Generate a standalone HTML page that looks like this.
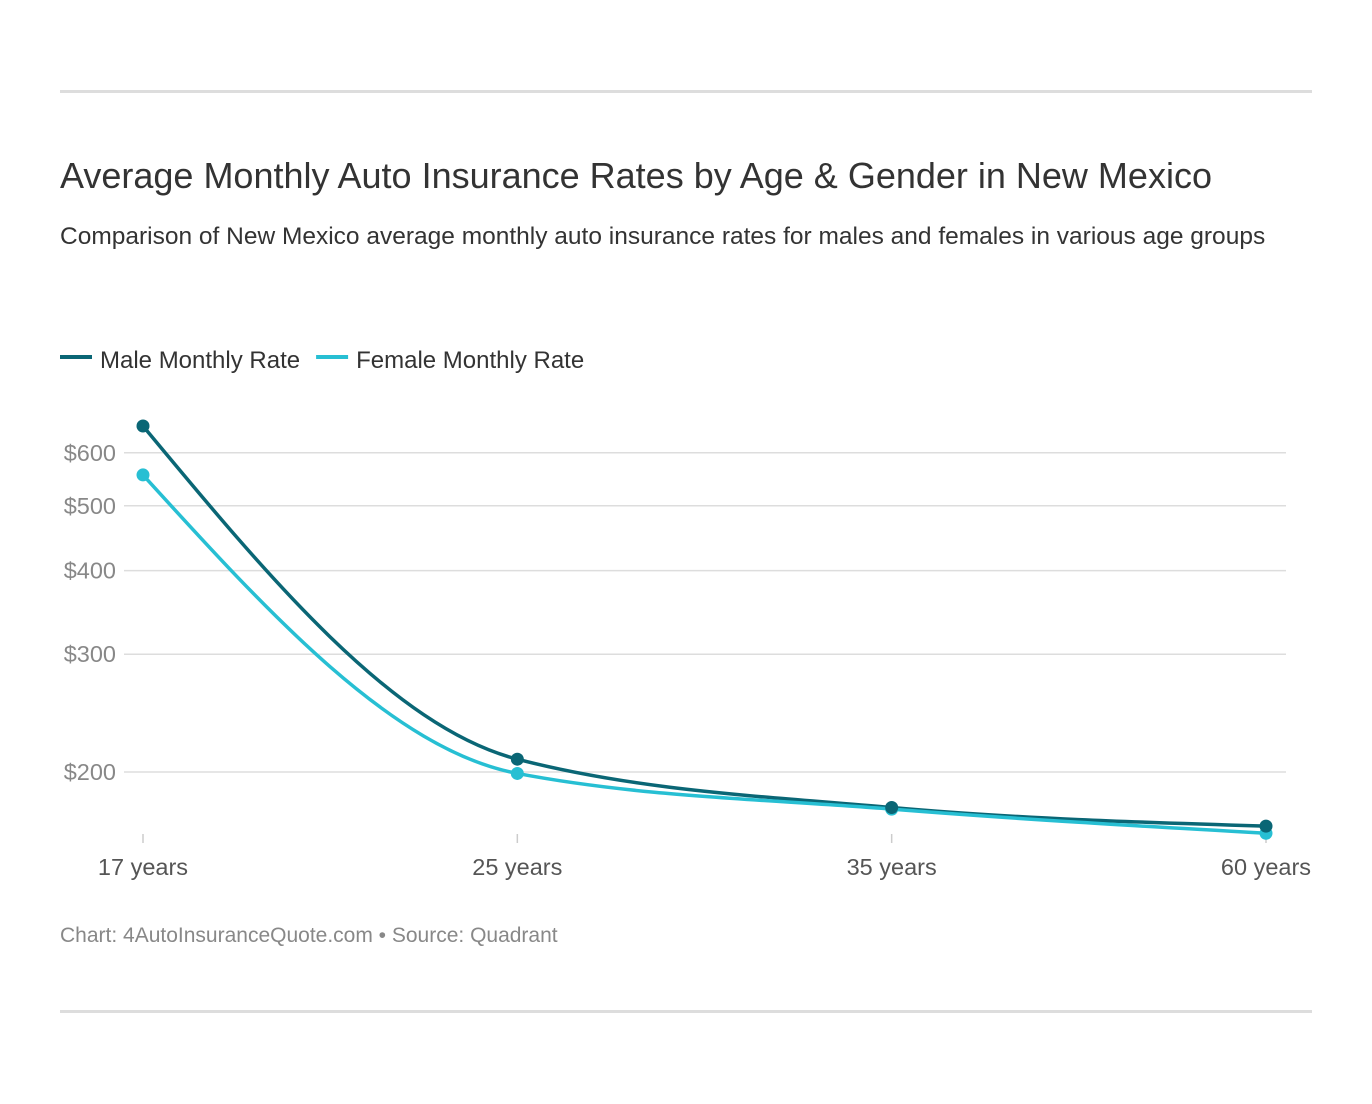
<!DOCTYPE html>
<html><head><meta charset="utf-8">
<style>
body{margin:0;background:#fff;font-family:"Liberation Sans",Arial,sans-serif;}
#wrap{position:relative;width:1372px;height:1104px;}
.rule{position:absolute;left:60px;width:1252px;height:3px;background:#ddd;}
h1{position:absolute;left:60px;top:155px;margin:0;font-size:36px;font-weight:normal;color:#333;white-space:nowrap;}
.sub{position:absolute;left:60px;top:220px;width:1210px;font-size:24.5px;line-height:34px;color:#333;}
.foot{position:absolute;left:60px;top:924px;font-size:21px;color:#888;}
</style></head><body>
<div id="wrap">
<div class="rule" style="top:90px"></div>
<h1>Average Monthly Auto Insurance Rates by Age &amp; Gender in New Mexico</h1>
<div class="sub">Comparison of New Mexico average monthly auto insurance rates for males and females in various age groups</div>
<svg id="chart" width="1372" height="1104" style="position:absolute;left:0;top:0"></svg>
<div class="foot">Chart: 4AutoInsuranceQuote.com • Source: Quadrant</div>
<div class="rule" style="top:1010px"></div>
</div>
<script>
const categories=["17 years","25 years","35 years","60 years"];
const maleValues=[658,209,177,166];
const femaleValues=[556,199,176,162];
const yTicks=[200,300,400,500,600];
const yTickLabels=["$200","$300","$400","$500","$600"];
const seriesNames=["Male Monthly Rate","Female Monthly Rate"];
const colors=["#0a6675","#27bfd3"];
const NS="http://www.w3.org/2000/svg";
const svg=document.getElementById('chart');
function x(i){return 143+i*(1266-143)/(categories.length-1);}
function y(v){return 772-669*Math.log10(v/200);}
function mk(t,a,p){const e=document.createElementNS(NS,t);for(const k in a)e.setAttribute(k,a[k]);(p||svg).appendChild(e);return e;}
yTicks.forEach((t,i)=>{
 const l=mk('line',{x1:124,x2:1286,y1:y(t),y2:y(t),stroke:'#ddd','stroke-width':1.5});
 
 
 const tx=mk('text',{x:116,y:y(t)+8,'text-anchor':'end','font-size':23.5,fill:'#888','font-family':'Liberation Sans'});
 tx.textContent=yTickLabels[i];
 
 
});
categories.forEach((c,i)=>{
 const l=mk('line',{x1:x(i),x2:x(i),y1:834,y2:843,stroke:'#ccc','stroke-width':1.5});
 
 
 const tx=mk('text',{x:x(i),y:875,'text-anchor':'middle','font-size':23.5,fill:'#555','font-family':'Liberation Sans'});
 tx.textContent=c;
 
 
});
function monotonePath(px,py){
 const n=px.length,d=[],m=[];
 for(let i=0;i<n-1;i++)d.push((py[i+1]-py[i])/(px[i+1]-px[i]));
 for(let i=0;i<n;i++){
  if(i===0||i===n-1)continue;
  const h0=px[i]-px[i-1],h1=px[i+1]-px[i];
  const p=(d[i-1]*h1+d[i]*h0)/(h0+h1);
  m[i]=(Math.sign(d[i-1])+Math.sign(d[i]))*Math.min(Math.abs(d[i-1]),Math.abs(d[i]),0.5*Math.abs(p))||0;
 }
 m[0]=(3*d[0]-m[1])/2; m[n-1]=(3*d[n-2]-m[n-2])/2;
 let s='M'+px[0]+','+py[0];
 for(let i=0;i<n-1;i++){const h=(px[i+1]-px[i])/3;
  s+=' C'+(px[i]+h)+','+(py[i]+m[i]*h)+' '+(px[i+1]-h)+','+(py[i+1]-m[i+1]*h)+' '+px[i+1]+','+py[i+1];}
 return s;
}
[maleValues,femaleValues].forEach((vals,si)=>{
 const px=vals.map((v,i)=>x(i)),py=vals.map(y);
 const p=mk('path',{d:monotonePath(px,py),fill:'none',stroke:colors[si],'stroke-width':3.5});
 
 
});
[femaleValues,maleValues].forEach((vals,k)=>{
 const si=k?0:1;
 vals.forEach((v,i)=>{
  const c=mk('circle',{cx:x(i),cy:y(v),r:6.5,fill:colors[si]});
  
  
 });
});
let lx=60;
seriesNames.forEach((n,i)=>{
 const l=mk('line',{x1:lx,x2:lx+32,y1:357,y2:357,stroke:colors[i],'stroke-width':4});
 
 
 const t=mk('text',{x:lx+40,y:368,'font-size':24,fill:'#333','font-family':'Liberation Sans'});
 t.textContent=n;
 
 
 lx+=40+t.getComputedTextLength()+16;
});
</script>
</body></html>
